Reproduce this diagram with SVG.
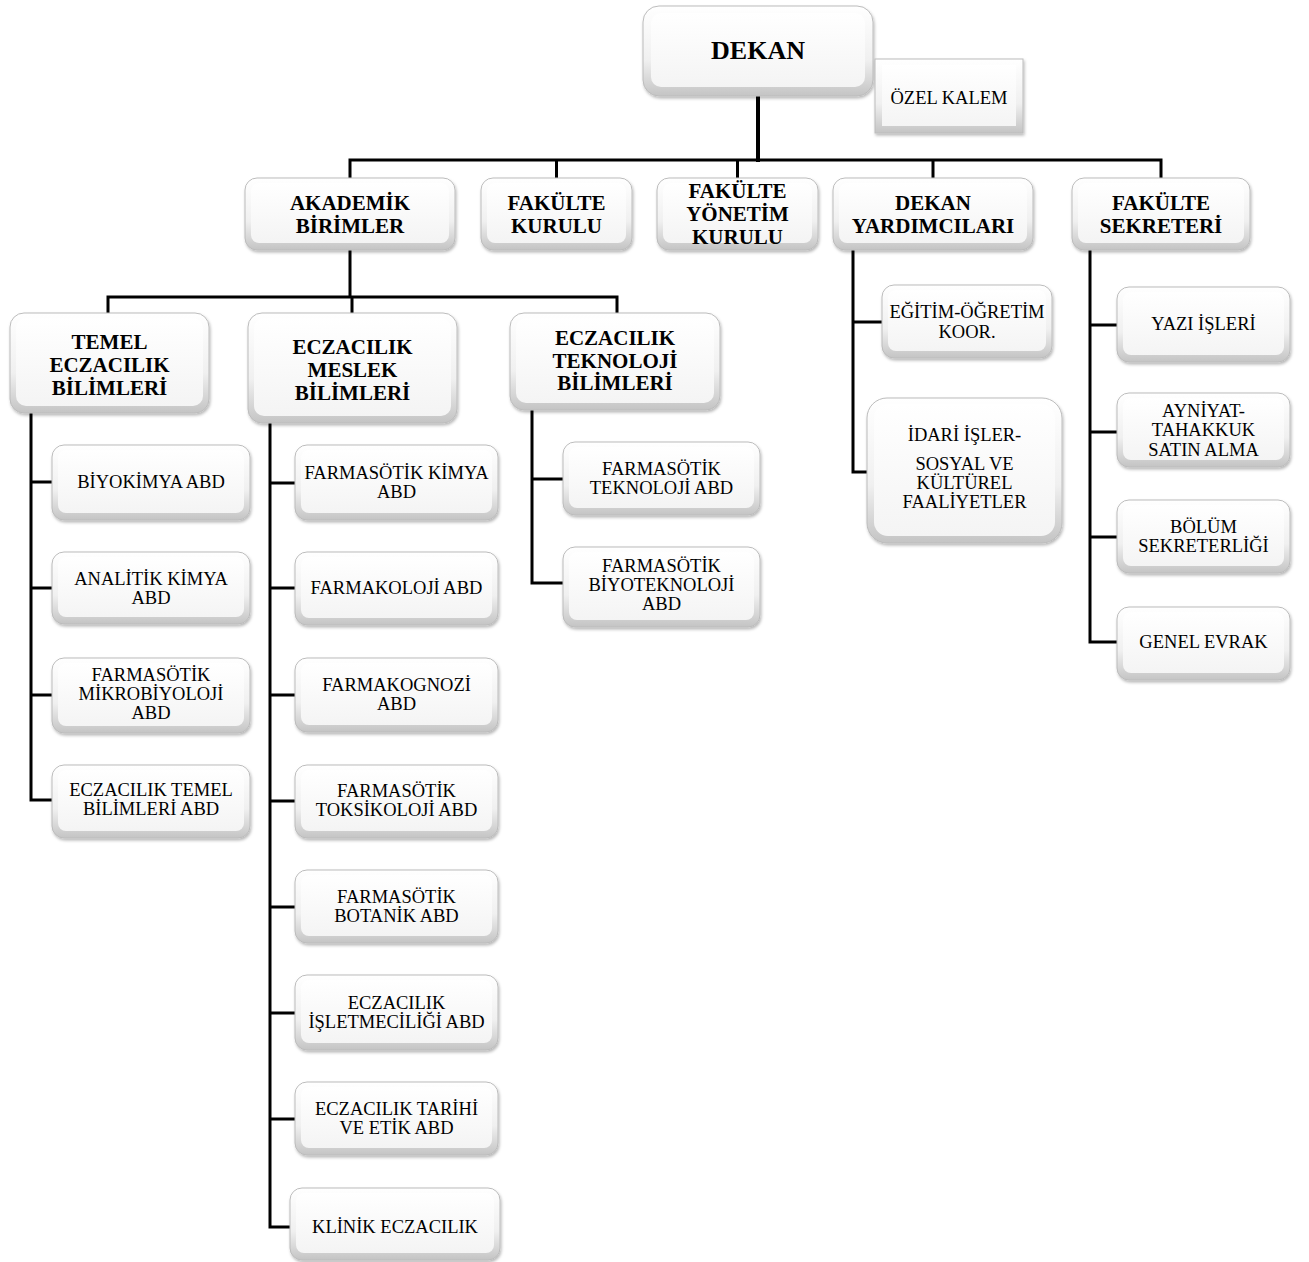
<svg xmlns="http://www.w3.org/2000/svg" width="1309" height="1262" viewBox="0 0 1309 1262">
<defs>
<linearGradient id="gOut" x1="0" y1="0" x2="0" y2="1">
<stop offset="0" stop-color="#ffffff"/>
<stop offset="0.6" stop-color="#f0f0f0"/>
<stop offset="1" stop-color="#c4c4c4"/>
</linearGradient>
<linearGradient id="gIn" x1="0" y1="0" x2="0" y2="1">
<stop offset="0" stop-color="#ffffff"/>
<stop offset="1" stop-color="#f4f4f4"/>
</linearGradient>
<filter id="sh" x="-10%" y="-10%" width="125%" height="130%">
<feDropShadow dx="1" dy="2" stdDeviation="1.5" flood-color="#000" flood-opacity="0.28"/>
</filter>
</defs>
<style>
.b{fill:url(#gOut);stroke:#bcbcbc;stroke-width:1;filter:url(#sh)}
.i{fill:url(#gIn);stroke:none}
.t{font-family:"Liberation Serif","Times New Roman",serif;font-size:18.5px;fill:#000;text-anchor:middle}
.h{font-family:"Liberation Serif","Times New Roman",serif;font-size:21px;font-weight:bold;fill:#000;text-anchor:middle}
.c{fill:none;stroke:#000;stroke-width:3;stroke-linejoin:miter;stroke-linecap:square}
</style>
<rect width="1309" height="1262" fill="#fff"/>
<g id="connectors">
<path class="c" d="M758,96 V160" style="stroke-width:4"/>
<path class="c" d="M350,178 V160 H1161 V178 M556.5,160 V178 M737.5,160 V178 M933,160 V178"/>
<path class="c" d="M350,250 V297 M108,313 V297 H617 V313 M352,297 V313"/>
<path class="c" d="M31,413 V800 H52 M31,482 H52 M31,588 H52 M31,695 H52"/>
<path class="c" d="M270,423 V1227 H290 M270,483 H295 M270,588 H295 M270,695 H295 M270,801 H295 M270,907 H295 M270,1013 H295 M270,1119 H295"/>
<path class="c" d="M532,410 V583 H563 M532,479 H563"/>
<path class="c" d="M853,250 V472 H867 M853,322 H882"/>
<path class="c" d="M1090,250 V642 H1117 M1090,325 H1117 M1090,432 H1117 M1090,537 H1117"/>
</g>
<g id="dekan"><rect class="b" x="643" y="6" width="230" height="90" rx="16"/><rect class="i" x="651" y="13" width="214" height="74" rx="10"/><text class="h" x="758" y="59" style="font-size:26px">DEKAN</text></g>
<g id="ozel-kalem"><rect class="b" x="875" y="59" width="148" height="74"/><rect class="i" x="882" y="65" width="134" height="61"/><text class="t" x="949" y="104" style="font-size:18.5px">ÖZEL KALEM</text></g>
<g id="akademik"><rect class="b" x="245" y="178" width="210" height="72" rx="12"/><rect class="i" x="251" y="183" width="198" height="60" rx="8"/><text class="h" x="350" y="210">AKADEMİK</text><text class="h" x="350" y="233">BİRİMLER</text></g>
<g id="fakulte-kurulu"><rect class="b" x="481" y="178" width="151" height="72" rx="12"/><rect class="i" x="487" y="183" width="139" height="60" rx="8"/><text class="h" x="556.5" y="210">FAKÜLTE</text><text class="h" x="556.5" y="233">KURULU</text></g>
<g id="fakulte-yonetim"><rect class="b" x="657" y="178" width="161" height="72" rx="12"/><rect class="i" x="663" y="183" width="149" height="60" rx="8"/><text class="h" x="737.5" y="198">FAKÜLTE</text><text class="h" x="737.5" y="221">YÖNETİM</text><text class="h" x="737.5" y="244">KURULU</text></g>
<g id="dekan-yard"><rect class="b" x="833" y="178" width="200" height="72" rx="12"/><rect class="i" x="839" y="183" width="188" height="60" rx="8"/><text class="h" x="933" y="210">DEKAN</text><text class="h" x="933" y="233">YARDIMCILARI</text></g>
<g id="fakulte-sekreteri"><rect class="b" x="1072" y="178" width="178" height="72" rx="12"/><rect class="i" x="1078" y="183" width="166" height="60" rx="8"/><text class="h" x="1161" y="210">FAKÜLTE</text><text class="h" x="1161" y="233">SEKRETERİ</text></g>
<g id="temel"><rect class="b" x="10" y="313" width="199" height="100" rx="14"/><rect class="i" x="16" y="318" width="187" height="88" rx="10"/><text class="h" x="109.5" y="349">TEMEL</text><text class="h" x="109.5" y="372">ECZACILIK</text><text class="h" x="109.5" y="395">BİLİMLERİ</text></g>
<g id="meslek"><rect class="b" x="248" y="313" width="209" height="110" rx="14"/><rect class="i" x="254" y="318" width="197" height="98" rx="10"/><text class="h" x="352.5" y="354">ECZACILIK</text><text class="h" x="352.5" y="377">MESLEK</text><text class="h" x="352.5" y="400">BİLİMLERİ</text></g>
<g id="teknoloji"><rect class="b" x="510" y="313" width="210" height="97" rx="14"/><rect class="i" x="516" y="318" width="198" height="85" rx="10"/><text class="h" x="615" y="345">ECZACILIK</text><text class="h" x="615" y="368">TEKNOLOJİ</text><text class="h" x="615" y="390">BİLİMLERİ</text></g>
<g id="biyokimya"><rect class="b" x="52" y="445" width="198" height="75" rx="12"/><rect class="i" x="58" y="450" width="186" height="63" rx="8"/><text class="t" x="151" y="488">BİYOKİMYA ABD</text></g>
<g id="analitik"><rect class="b" x="52" y="552" width="198" height="72" rx="12"/><rect class="i" x="58" y="557" width="186" height="60" rx="8"/><text class="t" x="151" y="585">ANALİTİK KİMYA</text><text class="t" x="151" y="604">ABD</text></g>
<g id="mikrobiyoloji"><rect class="b" x="52" y="658" width="198" height="75" rx="12"/><rect class="i" x="58" y="663" width="186" height="63" rx="8"/><text class="t" x="151" y="681">FARMASÖTİK</text><text class="t" x="151" y="700">MİKROBİYOLOJİ</text><text class="t" x="151" y="719">ABD</text></g>
<g id="temel-bilimleri"><rect class="b" x="52" y="765" width="198" height="73" rx="12"/><rect class="i" x="58" y="770" width="186" height="61" rx="8"/><text class="t" x="151" y="796">ECZACILIK TEMEL</text><text class="t" x="151" y="815">BİLİMLERİ ABD</text></g>
<g id="farm-kimya"><rect class="b" x="295" y="445" width="203" height="75" rx="12"/><rect class="i" x="301" y="450" width="191" height="63" rx="8"/><text class="t" x="396.5" y="479">FARMASÖTİK KİMYA</text><text class="t" x="396.5" y="498">ABD</text></g>
<g id="farmakoloji"><rect class="b" x="295" y="552" width="203" height="73" rx="12"/><rect class="i" x="301" y="557" width="191" height="61" rx="8"/><text class="t" x="396.5" y="594">FARMAKOLOJİ ABD</text></g>
<g id="farmakognozi"><rect class="b" x="295" y="658" width="203" height="74" rx="12"/><rect class="i" x="301" y="663" width="191" height="62" rx="8"/><text class="t" x="396.5" y="691">FARMAKOGNOZİ</text><text class="t" x="396.5" y="710">ABD</text></g>
<g id="toksikoloji"><rect class="b" x="295" y="765" width="203" height="73" rx="12"/><rect class="i" x="301" y="770" width="191" height="61" rx="8"/><text class="t" x="396.5" y="797">FARMASÖTİK</text><text class="t" x="396.5" y="816">TOKSİKOLOJİ ABD</text></g>
<g id="botanik"><rect class="b" x="295" y="870" width="203" height="73" rx="12"/><rect class="i" x="301" y="875" width="191" height="61" rx="8"/><text class="t" x="396.5" y="903">FARMASÖTİK</text><text class="t" x="396.5" y="922">BOTANİK ABD</text></g>
<g id="isletmecilik"><rect class="b" x="295" y="975" width="203" height="75" rx="12"/><rect class="i" x="301" y="980" width="191" height="63" rx="8"/><text class="t" x="396.5" y="1009">ECZACILIK</text><text class="t" x="396.5" y="1028">İŞLETMECİLİĞİ ABD</text></g>
<g id="tarih-etik"><rect class="b" x="295" y="1082" width="203" height="73" rx="12"/><rect class="i" x="301" y="1087" width="191" height="61" rx="8"/><text class="t" x="396.5" y="1115">ECZACILIK TARİHİ</text><text class="t" x="396.5" y="1134">VE ETİK ABD</text></g>
<g id="klinik"><rect class="b" x="290" y="1188" width="210" height="72" rx="12"/><rect class="i" x="296" y="1193" width="198" height="60" rx="8"/><text class="t" x="395" y="1233">KLİNİK ECZACILIK</text></g>
<g id="farm-teknoloji"><rect class="b" x="563" y="442" width="197" height="73" rx="12"/><rect class="i" x="569" y="447" width="185" height="61" rx="8"/><text class="t" x="661.5" y="475">FARMASÖTİK</text><text class="t" x="661.5" y="494">TEKNOLOJİ ABD</text></g>
<g id="biyoteknoloji"><rect class="b" x="563" y="547" width="197" height="80" rx="12"/><rect class="i" x="569" y="552" width="185" height="68" rx="8"/><text class="t" x="661.5" y="572">FARMASÖTİK</text><text class="t" x="661.5" y="591">BİYOTEKNOLOJİ</text><text class="t" x="661.5" y="610">ABD</text></g>
<g id="egitim"><rect class="b" x="882" y="285" width="170" height="73" rx="12"/><rect class="i" x="888" y="290" width="158" height="61" rx="8"/><text class="t" x="967" y="318">EĞİTİM-ÖĞRETİM</text><text class="t" x="967" y="338">KOOR.</text></g>
<g id="idari"><rect class="b" x="867" y="398" width="195" height="145" rx="20"/><rect class="i" x="874" y="404" width="181" height="132" rx="14"/><text class="t" x="964.5" y="441">İDARİ İŞLER-</text><text class="t" x="964.5" y="470">SOSYAL VE</text><text class="t" x="964.5" y="489">KÜLTÜREL</text><text class="t" x="964.5" y="508">FAALİYETLER</text></g>
<g id="yazi"><rect class="b" x="1117" y="287" width="173" height="75" rx="12"/><rect class="i" x="1123" y="292" width="161" height="63" rx="8"/><text class="t" x="1203.5" y="330">YAZI İŞLERİ</text></g>
<g id="ayniyat"><rect class="b" x="1117" y="393" width="173" height="74" rx="12"/><rect class="i" x="1123" y="398" width="161" height="62" rx="8"/><text class="t" x="1203.5" y="417">AYNİYAT-</text><text class="t" x="1203.5" y="436">TAHAKKUK</text><text class="t" x="1203.5" y="456">SATIN ALMA</text></g>
<g id="bolum"><rect class="b" x="1117" y="500" width="173" height="73" rx="12"/><rect class="i" x="1123" y="505" width="161" height="61" rx="8"/><text class="t" x="1203.5" y="533">BÖLÜM</text><text class="t" x="1203.5" y="552">SEKRETERLİĞİ</text></g>
<g id="genel-evrak"><rect class="b" x="1117" y="607" width="173" height="73" rx="12"/><rect class="i" x="1123" y="612" width="161" height="61" rx="8"/><text class="t" x="1203.5" y="648">GENEL EVRAK</text></g>
</svg>
